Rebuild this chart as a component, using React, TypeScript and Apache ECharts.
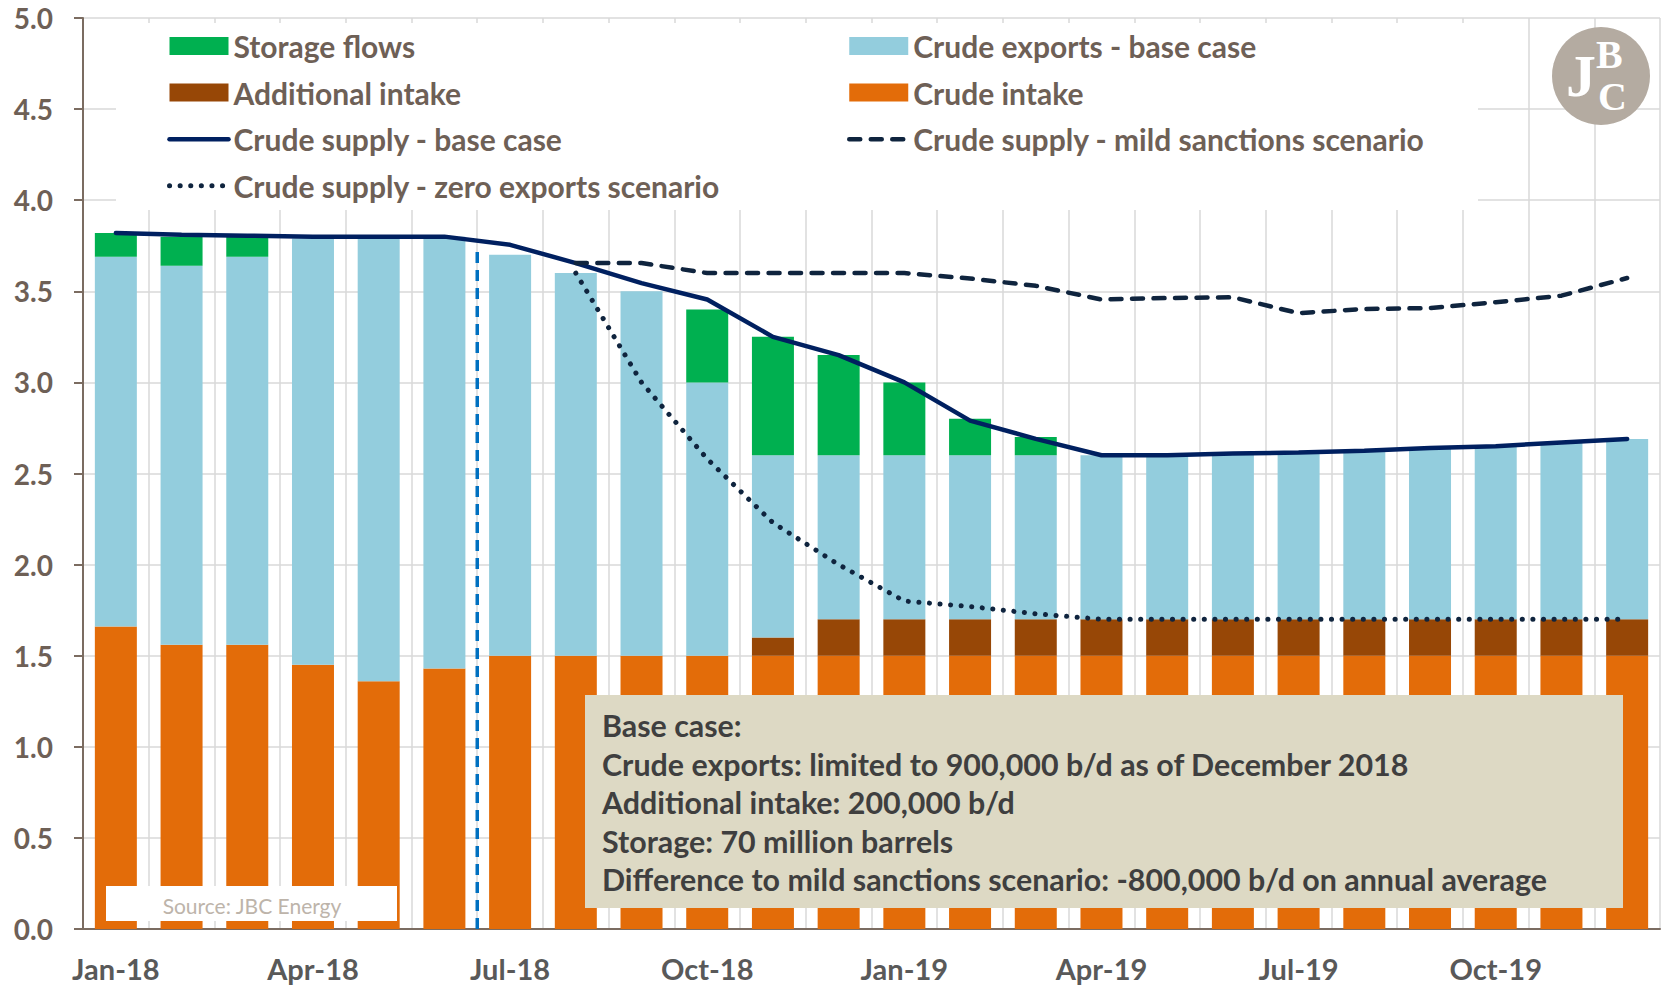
import React, { useEffect, useRef } from "react";
import * as echarts from "echarts";

const months = [
  "Jan-18", "Feb-18", "Mar-18", "Apr-18", "May-18", "Jun-18",
  "Jul-18", "Aug-18", "Sep-18", "Oct-18", "Nov-18", "Dec-18",
  "Jan-19", "Feb-19", "Mar-19", "Apr-19", "May-19", "Jun-19",
  "Jul-19", "Aug-19", "Sep-19", "Oct-19", "Nov-19", "Dec-19",
];

const crudeIntake = [1.66, 1.56, 1.56, 1.45, 1.36, 1.43, 1.5, 1.5, 1.5, 1.5, 1.5, 1.5, 1.5, 1.5, 1.5, 1.5, 1.5, 1.5, 1.5, 1.5, 1.5, 1.5, 1.5, 1.5];
const additionalIntake = [0, 0, 0, 0, 0, 0, 0, 0, 0, 0, 0.1, 0.2, 0.2, 0.2, 0.2, 0.2, 0.2, 0.2, 0.2, 0.2, 0.2, 0.2, 0.2, 0.2];
const crudeExports = [2.03, 2.08, 2.13, 2.34, 2.43, 2.37, 2.2, 2.1, 2.0, 1.5, 1.0, 0.9, 0.9, 0.9, 0.9, 0.9, 0.9, 0.91, 0.915, 0.925, 0.94, 0.95, 0.97, 0.99];
const storageFlows = [0.13, 0.16, 0.11, 0, 0, 0, 0, 0, 0, 0.4, 0.65, 0.55, 0.4, 0.2, 0.1, 0, 0, 0, 0, 0, 0, 0, 0, 0];

const supplyBase = [3.82, 3.81, 3.805, 3.8, 3.8, 3.8, 3.755, 3.655, 3.545, 3.455, 3.25, 3.15, 3.0, 2.79, 2.69, 2.6, 2.6, 2.61, 2.615, 2.625, 2.64, 2.65, 2.67, 2.69];
const supplyMild = [null, null, null, null, null, null, null, 3.655, 3.655, 3.6, 3.6, 3.6, 3.6, 3.57, 3.53, 3.455, 3.463, 3.467, 3.38, 3.403, 3.408, 3.44, 3.476, 3.573];
const supplyZero = [null, null, null, null, null, null, null, 3.6, 3.0, 2.58, 2.23, 2.0, 1.8, 1.77, 1.73, 1.7, 1.7, 1.7, 1.7, 1.7, 1.7, 1.7, 1.7, 1.7];

// Sanctions start marker (between Jun-18 and Jul-18)
const markerLine = [[5.5, 0], [5.5, 3.72]];

const annotationLines = [
  "Base case:",
  "Crude exports: limited to 900,000 b/d as of December 2018",
  "Additional intake: 200,000 b/d",
  "Storage: 70 million barrels",
  "Difference to mild sanctions scenario: -800,000 b/d on annual average",
];

const FONT = "Lato";
const LEGEND_COLOR = "#6E6056";

export default function App() {
  const ref = useRef<HTMLDivElement>(null);

  useEffect(() => {
    if (!ref.current) return;
    const chart = echarts.init(ref.current, null, { renderer: "svg" });

    const legendText = {
      fontFamily: FONT,
      fontWeight: "bold",
      fontSize: 30,
      color: LEGEND_COLOR,
      lineHeight: 30,
    };

    const legendCommon = {
      orient: "vertical",
      top: 26,
      itemWidth: 59,
      itemHeight: 18,
      itemGap: 16.6,
      selectedMode: false,
      textStyle: legendText,
      lineStyle: { width: "inherit", type: "inherit", cap: "inherit" },
    };

    const barBase = {
      type: "bar",
      stack: "total",
      barWidth: 42,
      xAxisIndex: 0,
      yAxisIndex: 0,
      silent: true,
    };

    const graphics: any[] = [
      {
        type: "rect",
        z: 1,
        shape: { x: 116, y: 23, width: 1362, height: 187 },
        style: { fill: "#ffffff" },
        silent: true,
      },
      {
        type: "circle",
        z: 10,
        shape: { cx: 1601, cy: 76, r: 49 },
        style: { fill: "#B4ABA1" },
        silent: true,
      },
      {
        type: "text",
        z: 11,
        x: 1566,
        y: 46,
        style: { text: "J", fill: "#ffffff", font: "bold 60px 'Liberation Serif'", textVerticalAlign: "top" },
        silent: true,
      },
      {
        type: "text",
        z: 11,
        x: 1596,
        y: 34,
        style: { text: "B", fill: "#ffffff", font: "bold 40px 'Liberation Serif'", textVerticalAlign: "top" },
        silent: true,
      },
      {
        type: "text",
        z: 11,
        x: 1598,
        y: 76,
        style: { text: "C", fill: "#ffffff", font: "bold 40px 'Liberation Serif'", textVerticalAlign: "top" },
        silent: true,
      },
      {
        type: "rect",
        z: 10,
        shape: { x: 585, y: 695, width: 1038, height: 213 },
        style: { fill: "#DDD9C4" },
        silent: true,
      },
      ...annotationLines.map((t, i) => ({
        type: "text",
        z: 11,
        x: 602,
        y: 725 + i * 38.5,
        style: {
          text: t,
          fill: "#3F3F3F",
          font: `bold 30.4px ${FONT}`,
          textVerticalAlign: "middle",
        },
        silent: true,
      })),
      {
        type: "rect",
        z: 10,
        shape: { x: 106, y: 886, width: 291, height: 35 },
        style: { fill: "#ffffff" },
        silent: true,
      },
      {
        type: "text",
        z: 11,
        x: 252,
        y: 905,
        style: {
          text: "Source: JBC Energy",
          fill: "#BDB4AA",
          font: `21px ${FONT}`,
          textAlign: "center",
          textVerticalAlign: "middle",
        },
        silent: true,
      },
    ];

    chart.setOption({
      animation: false,
      backgroundColor: "#ffffff",
      grid: { left: 83, right: 1, top: 18, bottom: 56, containLabel: false },
      legend: [
        {
          ...legendCommon,
          left: 162,
          data: [
            { name: "Storage flows", icon: "rect" },
            { name: "Additional intake", icon: "rect" },
            { name: "Crude supply - base case", itemStyle: { opacity: 0 } },
            { name: "Crude supply - zero exports scenario", itemStyle: { opacity: 0 } },
          ],
        },
        {
          ...legendCommon,
          left: 842,
          data: [
            { name: "Crude exports - base case", icon: "rect" },
            { name: "Crude intake", icon: "rect" },
            { name: "Crude supply - mild sanctions scenario", itemStyle: { opacity: 0 } },
          ],
        },
      ],
      xAxis: [
        {
          type: "category",
          data: months,
          boundaryGap: true,
          axisLine: { show: true, lineStyle: { color: "#7B6C61", width: 2 } },
          axisTick: { show: false },
          splitLine: { show: true, interval: 0, lineStyle: { color: "#D9D9D9", width: 1.5 } },
          axisLabel: {
            interval: 2,
            margin: 25,
            fontFamily: FONT,
            fontWeight: "bold",
            fontSize: 29,
            color: "#595959",
          },
        },
        {
          type: "value",
          min: -0.5,
          max: 23.5,
          show: false,
          splitLine: { show: false },
        },
      ],
      yAxis: {
        type: "value",
        min: 0,
        max: 5,
        interval: 0.5,
        axisLine: { show: true, onZero: false, lineStyle: { color: "#7B6C61", width: 2 } },
        axisTick: { show: true, inside: false, length: 9, lineStyle: { color: "#7B6C61", width: 2 } },
        splitLine: { show: true, lineStyle: { color: "#D9D9D9", width: 1.5 } },
        axisLabel: {
          margin: 30,
          fontFamily: FONT,
          fontWeight: "bold",
          fontSize: 28,
          color: LEGEND_COLOR,
          formatter: (v: number) => v.toFixed(1),
        },
      },
      graphic: graphics,
      series: [
        { ...barBase, name: "Crude intake", data: crudeIntake, itemStyle: { color: "#E36C09" } },
        { ...barBase, name: "Additional intake", data: additionalIntake, itemStyle: { color: "#974706" } },
        { ...barBase, name: "Crude exports - base case", data: crudeExports, itemStyle: { color: "#93CDDD" } },
        { ...barBase, name: "Storage flows", data: storageFlows, itemStyle: { color: "#00B050" } },
        {
          type: "line",
          name: "Crude supply - base case",
          data: supplyBase,
          symbol: "none",
          z: 5,
          silent: true,
          lineStyle: { color: "#002060", width: 4.5, cap: "round" },
          itemStyle: { color: "#002060" },
        },
        {
          type: "line",
          name: "Crude supply - mild sanctions scenario",
          data: supplyMild,
          symbol: "none",
          z: 5,
          silent: true,
          lineStyle: { color: "#0F243E", width: 4.5, type: [11, 10.5], cap: "round" },
          itemStyle: { color: "#0F243E" },
        },
        {
          type: "line",
          name: "Crude supply - zero exports scenario",
          data: supplyZero,
          symbol: "none",
          z: 5,
          silent: true,
          lineStyle: { color: "#0F243E", width: 5, type: [0.1, 10.5], cap: "round" },
          itemStyle: { color: "#0F243E" },
        },
        {
          type: "line",
          name: "Sanctions marker",
          xAxisIndex: 1,
          data: markerLine,
          symbol: "none",
          z: 4,
          silent: true,
          lineStyle: { color: "#0070C0", width: 3.5, type: [11, 7] },
        },
      ],
    });

    return () => {
      chart.dispose();
    };
  }, []);

  return (
    <div
      ref={ref}
      style={{ position: "absolute", left: 0, top: 0, width: 1661, height: 985 }}
    />
  );
}
